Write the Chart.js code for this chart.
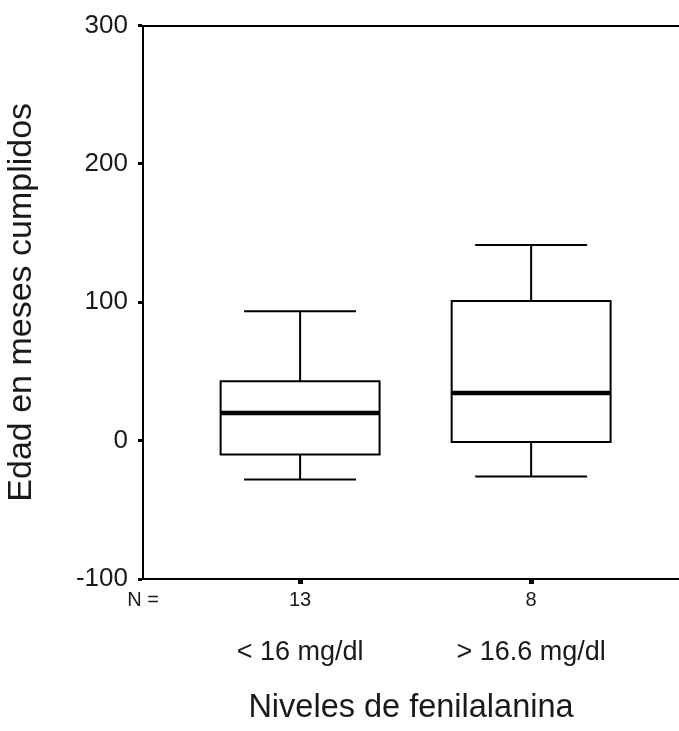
<!DOCTYPE html>
<html lang="es">
<head>
  <meta charset="UTF-8">
  <title>Edad en meses cumplidos por niveles de fenilalanina</title>
  <script src="https://cdn.jsdelivr.net/npm/chart.js"></script>
  <style>
    body { margin: 0; padding: 0; background: #ffffff; overflow: hidden; }
    canvas { display: block; }
  </style>
</head>
<body>
  <canvas id="chart" width="679" height="731"></canvas>

  <script>
    // datos
    const categories = ['< 16 mg/dl', '> 16.6 mg/dl'];
    const counts = [13, 8];
    const whiskerLow = [-28, -26];
    const q1 = [-10, -1];
    const median = [20, 34.5];
    const q3 = [43, 101];
    const whiskerHigh = [93.5, 141.5];
    const yTicks = [-100, 0, 100, 200, 300];

    const X_MIN = 0.32, X_MAX = 2.64;
    const BOX_HALF = 0.344, CAP_HALF = 0.238;
    const FONT = "'Liberation Sans', Arial, sans-serif";
    const INK = '#000000';
    const TEXT = '#1a1a1a';

    const gap = x => ({ x, y: null });

    const datasets = [];
    categories.forEach((cat, i) => {
      const c = i + 1;
      datasets.push({
        label: cat,
        data: [
          { x: c - BOX_HALF, y: q1[i] }, { x: c + BOX_HALF, y: q1[i] },
          { x: c + BOX_HALF, y: q3[i] }, { x: c - BOX_HALF, y: q3[i] },
          { x: c - BOX_HALF, y: q1[i] }, gap(c),
          { x: c, y: q3[i] }, { x: c, y: whiskerHigh[i] }, gap(c),
          { x: c - CAP_HALF, y: whiskerHigh[i] }, { x: c + CAP_HALF, y: whiskerHigh[i] }, gap(c),
          { x: c, y: q1[i] }, { x: c, y: whiskerLow[i] }, gap(c),
          { x: c - CAP_HALF, y: whiskerLow[i] }, { x: c + CAP_HALF, y: whiskerLow[i] }
        ],
        borderColor: INK, borderWidth: 2, borderJoinStyle: 'miter', borderCapStyle: 'square'
      });
      datasets.push({
        label: cat + ' mediana',
        data: [{ x: c - BOX_HALF, y: median[i] }, { x: c + BOX_HALF, y: median[i] }],
        borderColor: INK, borderWidth: 4.5, borderCapStyle: 'butt'
      });
    });
    datasets.forEach(d => Object.assign(d, { showLine: true, pointRadius: 0, tension: 0, spanGaps: false, clip: false }));

    const catTicks = scale => { scale.ticks = [X_MIN, 1, 2].map(v => ({ value: v })); };

    new Chart(document.getElementById('chart'), {
      type: 'scatter',
      data: { datasets },
      options: {
        responsive: false,
        animation: false,
        devicePixelRatio: 1,
        layout: { padding: { top: 25, right: 0, bottom: 0, left: 0 } },
        plugins: { legend: { display: false }, tooltip: { enabled: false } },
        scales: {
          x: {
            type: 'linear', position: 'bottom', min: X_MIN, max: X_MAX,
            afterBuildTicks: catTicks,
            afterFit: s => { s.height = 40; },
            border: { display: true, color: INK, width: 2 },
            grid: { drawOnChartArea: false, tickLength: 5, tickWidth: 5,
                    tickColor: ctx => ctx.index === 0 ? 'rgba(0,0,0,0)' : INK },
            ticks: {
              autoSkip: false, maxRotation: 0, padding: 4, color: TEXT,
              font: { family: FONT, size: 20 },
              callback: (v, i) => i === 0 ? 'N =' : String(counts[i - 1])
            }
          },
          x2: {
            type: 'linear', position: 'bottom', min: X_MIN, max: X_MAX,
            afterBuildTicks: catTicks,
            afterFit: s => { s.height = 112; },
            border: { display: false },
            grid: { display: false },
            ticks: {
              autoSkip: false, maxRotation: 0, padding: 9, color: TEXT,
              font: { family: FONT, size: 27 },
              callback: (v, i) => i === 0 ? '' : categories[i - 1]
            },
            title: { display: true, text: 'Niveles de fenilalanina', color: TEXT,
                     font: { family: FONT, size: 32.5 }, padding: { top: 0, bottom: 3 } }
          },
          xTop: {
            type: 'linear', position: 'top', min: X_MIN, max: X_MAX,
            border: { display: true, color: INK, width: 2 },
            grid: { drawOnChartArea: false, drawTicks: false },
            ticks: { display: false }
          },
          y: {
            type: 'linear', position: 'left', min: -100, max: 300,
            afterBuildTicks: s => { s.ticks = yTicks.map(v => ({ value: v })); },
            afterFit: s => { s.width = 143; },
            border: { display: true, color: INK, width: 2 },
            grid: { drawOnChartArea: false, tickLength: 5, tickWidth: 3, tickColor: INK },
            ticks: { padding: 10, color: TEXT, font: { family: FONT, size: 26 } },
            title: { display: true, text: 'Edad en meses cumplidos', color: TEXT,
                     font: { family: FONT, size: 34 }, padding: { top: 1, bottom: 0 } }
          }
        }
      }
    });
  </script>
</body>
</html>
